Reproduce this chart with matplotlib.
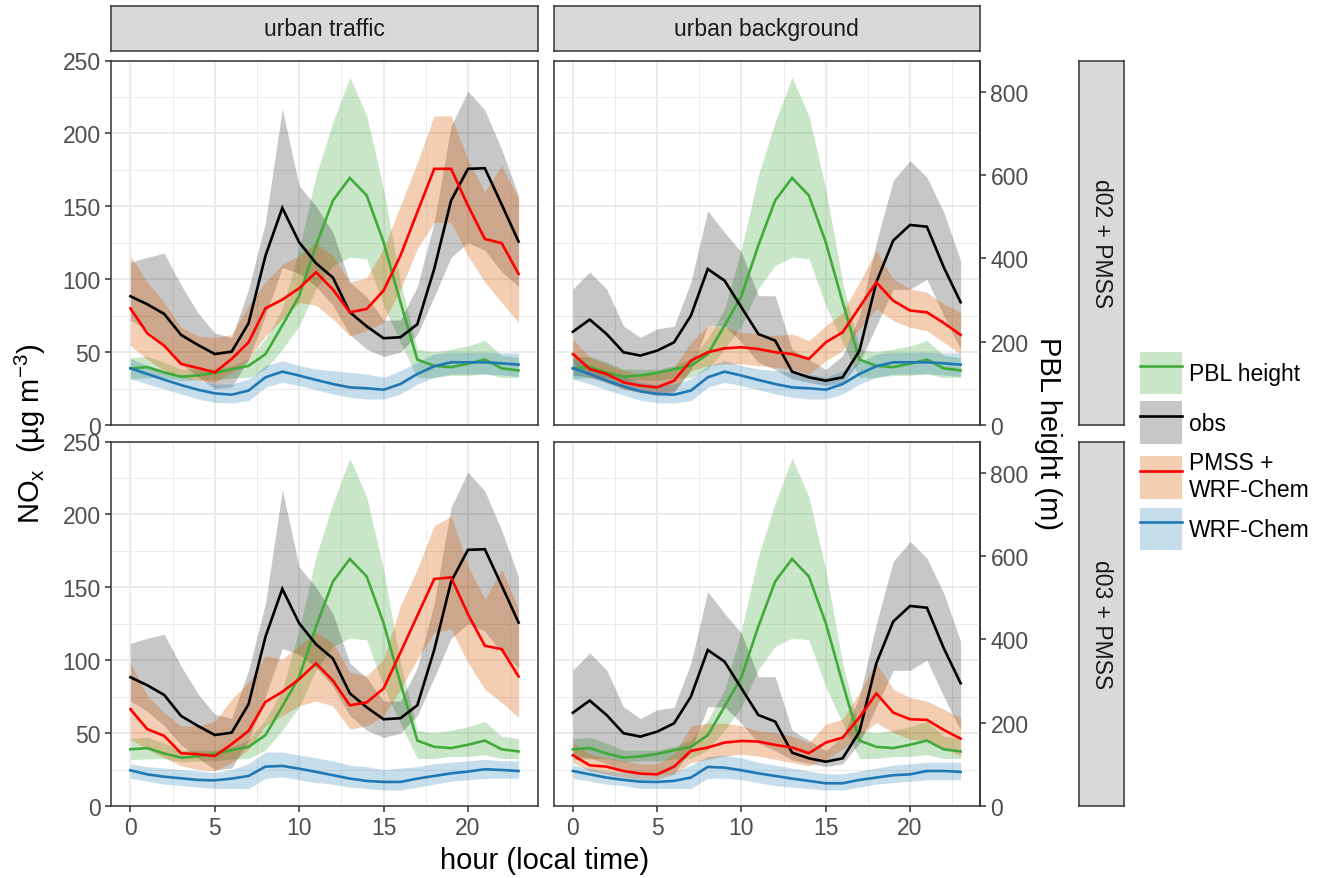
import matplotlib

matplotlib.use("Agg")  # headless
import matplotlib.pyplot as plt
import numpy as np
from matplotlib.lines import Line2D
from matplotlib.patches import Patch
from matplotlib.ticker import MultipleLocator

plt.rcParams["font.family"] = ["Liberation Sans", "DejaVu Sans"]
plt.rcParams["mathtext.fontset"] = "custom"
plt.rcParams["mathtext.rm"] = "Liberation Sans"
plt.rcParams["mathtext.it"] = "Liberation Sans:italic"

HOURS = np.arange(24)
STATIONS = ["urban traffic", "urban background"]
DOMAINS = ["d02 + PMSS", "d03 + PMSS"]
PBL_SCALE = 3.5  # NOx (ug m-3) -> PBL height (m) on the secondary axis

# PBL height (m), same in every panel
pbl_mean = [136, 139, 126, 116, 119, 125, 134, 142, 170, 239, 310, 431,
            539, 593, 551, 439, 295, 157, 142, 139, 147, 157, 136, 131]
pbl_lo = [111, 113, 114, 106, 108, 108, 113, 114, 134, 182, 238, 327,
          383, 403, 399, 287, 198, 114, 114, 119, 119, 123, 114, 114]
pbl_hi = [162, 165, 151, 134, 134, 134, 142, 159, 207, 279, 423, 599,
          727, 835, 742, 567, 343, 182, 175, 182, 190, 203, 167, 162]

# observations (same for both domains)
obs_traffic = [88.3, 82.8, 76.2, 61.8, 54.9, 48.7, 50.3, 69.8, 116, 148.9, 125.3, 110.9,
               101.1, 77.3, 67.7, 59.5, 60.2, 69.1, 107, 153.9, 175.7, 176.1, 151.2, 125.8]
obs_traffic_lo = [72, 65, 55, 42, 33, 25, 26, 45, 75, 108, 104, 95,
                  82, 62, 52, 47, 50, 62, 88, 115, 125, 120, 105, 95]
obs_traffic_hi = [111.6, 115, 117.8, 96, 77, 63, 60, 93, 139, 216.8, 164, 150,
                  132, 98, 88, 72, 72, 95, 139, 205, 229, 216, 189, 157]

obs_backgr = [64, 72.3, 62.4, 49.9, 47.6, 51, 56.7, 75, 107, 99, 80.7, 62.4,
              57.9, 36.6, 32.7, 30.4, 32.7, 51, 97.9, 126.5, 137.2, 136, 108.2, 84.2]
obs_backgr_lo = [34, 33, 29, 24.7, 22.4, 21.3, 22.4, 38, 68, 68, 56.7, 43,
                 38, 31.6, 29.3, 27, 29, 43, 68, 93, 93, 100, 75, 52]
obs_backgr_hi = [93.3, 105, 93.3, 68, 60, 66, 67.7, 98, 147, 132, 118.5, 88.7,
                 88.7, 52, 45, 38, 47.6, 75, 125, 167.7, 181.4, 170, 146, 112.8]

# PMSS + WRF-Chem
pmss_traffic_d02 = [80, 62.9, 54.4, 41.9, 39.1, 36.1, 45.3, 56.7, 80, 86, 93.8, 104.8,
                    92.9, 77.3, 79.6, 92.2, 116.2, 146, 175.7, 175.7, 150.5, 127.6, 124.7, 103.6]
pmss_traffic_d02_lo = [54.4, 45, 37.3, 32.7, 30.4, 29.3, 36, 45, 61, 72.7, 84, 82,
                       72.7, 61, 64.7, 70.4, 93, 120.8, 139, 139, 116, 98, 84, 70.4]
pmss_traffic_d02_hi = [116, 98, 84, 67, 61, 60, 62, 82, 98, 110, 116, 125,
                       116, 98, 101, 121, 150.5, 180, 212, 212, 182, 160, 178, 155]

pmss_traffic_d03 = [66.4, 52.7, 48.1, 36.2, 35.5, 34.3, 42.4, 51.5, 71.4, 78.3, 87, 97.8,
                    85.9, 69.1, 71, 80.6, 105.3, 130.5, 155.7, 156.8, 131.6, 109.9, 107.6, 88.8]
pmss_traffic_d03_lo = [45.8, 38.9, 33.2, 27.5, 25.2, 24, 29.8, 38.9, 55, 61.8, 68.7, 72,
                       68.7, 52.7, 55, 61.8, 80, 100.7, 119, 121.3, 98.4, 80, 71, 60.7]
pmss_traffic_d03_hi = [98.4, 75.5, 64, 55, 55, 58, 73.3, 84.7, 103, 100.7, 110, 119,
                       112, 91.6, 89.3, 100.7, 137.4, 162.5, 192.3, 198.7, 164.8, 141.9, 162.5, 135]

pmss_backgr_d02 = [48.7, 38.4, 35, 29.3, 27, 25.8, 30.4, 44.1, 49.9, 52.6, 53.3, 52.1,
                   49.9, 48.7, 45.3, 56.7, 63.6, 80.7, 97.9, 85.3, 78.5, 77.3, 70, 61.8]
pmss_backgr_d02_lo = [43, 32.7, 29.3, 24.7, 22.4, 20, 23.6, 37.3, 40.7, 41.9, 41.9, 40.7,
                      39.6, 38.4, 35, 44, 51, 65.9, 79.6, 71.6, 67, 64.7, 56.7, 48.7]
pmss_backgr_d02_hi = [59, 46.4, 41.9, 37.3, 35, 35, 39.6, 56.7, 68, 67, 63.6, 62.4,
                      61.3, 62.4, 57.9, 68, 77.3, 98, 119.6, 100, 93.3, 91, 83, 77.3]

pmss_backgr_d03 = [34.8, 27.9, 27, 24, 22.2, 21.7, 27, 37.8, 40.1, 43.5, 44.6, 44.2,
                   41.9, 40.1, 36.2, 43.5, 46.9, 60.7, 77.2, 64.1, 59.5, 59.1, 52.2, 46.2]
pmss_backgr_d03_lo = [29.8, 24, 21.7, 19.5, 18.3, 18.3, 21.7, 29.8, 32, 34.3, 35.5, 34.3,
                      32, 29.8, 27.5, 32, 38.9, 48, 57.2, 50.4, 45.8, 44.6, 40, 34.3]
pmss_backgr_d03_hi = [43.5, 35.5, 33.2, 30.9, 29, 29, 35.5, 55, 56.8, 56.8, 55, 51.5,
                      50.4, 48, 43.5, 56, 59.5, 77.8, 98.4, 80, 74.4, 72, 66.4, 60.7]

# WRF-Chem alone
wrf_traffic_d02 = [38.9, 35, 31.1, 27.4, 24.2, 21.7, 20.8, 23.6, 32.7, 36.6, 33.9, 30.9,
                   28.1, 25.8, 25.2, 24.2, 28.1, 35, 40.3, 43, 43, 43, 42.3, 41.4]
wrf_traffic_d02_lo = [31.6, 28.1, 24.7, 21.3, 17.8, 15.6, 15.1, 16.7, 25.8, 29.3, 27, 24.2,
                      21.3, 19, 17.8, 17.8, 21.3, 28.1, 32.7, 35, 35, 35, 34.3, 33.4]
wrf_traffic_d02_hi = [45.7, 40.7, 37.3, 33.9, 30.4, 28.1, 28.1, 31.6, 40.7, 44.1, 40.7, 38.4,
                      37.3, 36.1, 35, 32.7, 37.3, 43, 48.7, 49.9, 49.9, 49.9, 49.4, 49.4]

wrf_backgr_d02 = [38.9, 35, 30.4, 26.5, 23.1, 21.3, 20.8, 23.6, 32.7, 36.6, 33.9, 30.9,
                  28.1, 25.8, 25.2, 24.2, 28.1, 35, 40.3, 43, 43, 43, 42.3, 41.4]
wrf_backgr_d02_lo = [31.6, 28.1, 24, 20.5, 17, 15.3, 15.1, 16.7, 25.8, 29.3, 27, 24.2,
                     21.3, 19, 17.8, 17.8, 21.3, 28.1, 32.7, 35, 35, 35, 34.3, 33.4]
wrf_backgr_d02_hi = [45.7, 40.7, 36.6, 33, 29.5, 27.6, 28.1, 31.6, 40.7, 44.1, 40.7, 38.4,
                     37.3, 36.1, 35, 32.7, 37.3, 43, 48.7, 49.9, 49.9, 49.9, 49.4, 49.4]

wrf_traffic_d03 = [24.5, 21.7, 20.1, 19, 17.9, 17.6, 18.8, 20.6, 27, 27.5, 25.6, 23.4,
                   21.1, 18.8, 17.2, 16.5, 16.5, 18.8, 20.6, 22.4, 23.6, 25.2, 24.7, 24]
wrf_traffic_d03_lo = [19, 17, 15, 14, 13, 12, 12, 12, 19, 20, 18, 16,
                      15, 13, 12, 11, 11, 13, 15, 17, 18, 19, 19, 19]
wrf_traffic_d03_hi = [29, 27, 26, 25, 24, 23, 25, 29, 37, 37, 35, 33,
                      31, 28, 27, 25, 26, 27, 29, 30, 31, 32, 31, 31]

wrf_backgr_d03 = [24, 21.7, 19.5, 17.9, 16.7, 16.5, 17.2, 19.5, 26.8, 26.3, 24.5, 22.4,
                  20.6, 18.8, 17.2, 15.6, 15.6, 17.9, 19.5, 21.1, 21.7, 24, 24, 23.4]
wrf_backgr_d03_lo = [19, 17, 15, 14, 12, 12, 12, 12, 19, 19, 18, 16,
                     14, 13, 12, 11, 11, 13, 15, 16, 17, 18, 18, 18]
wrf_backgr_d03_hi = [28, 26, 24, 23, 22, 21, 23, 28, 34, 35, 33, 30,
                     28, 26, 24, 22, 22, 24, 26, 28, 29, 30, 30, 30]

OBS = {
    "urban traffic": (obs_traffic, obs_traffic_lo, obs_traffic_hi),
    "urban background": (obs_backgr, obs_backgr_lo, obs_backgr_hi),
}
PMSS = {
    ("urban traffic", "d02 + PMSS"): (pmss_traffic_d02, pmss_traffic_d02_lo, pmss_traffic_d02_hi),
    ("urban traffic", "d03 + PMSS"): (pmss_traffic_d03, pmss_traffic_d03_lo, pmss_traffic_d03_hi),
    ("urban background", "d02 + PMSS"): (pmss_backgr_d02, pmss_backgr_d02_lo, pmss_backgr_d02_hi),
    ("urban background", "d03 + PMSS"): (pmss_backgr_d03, pmss_backgr_d03_lo, pmss_backgr_d03_hi),
}
WRF = {
    ("urban traffic", "d02 + PMSS"): (wrf_traffic_d02, wrf_traffic_d02_lo, wrf_traffic_d02_hi),
    ("urban traffic", "d03 + PMSS"): (wrf_traffic_d03, wrf_traffic_d03_lo, wrf_traffic_d03_hi),
    ("urban background", "d02 + PMSS"): (wrf_backgr_d02, wrf_backgr_d02_lo, wrf_backgr_d02_hi),
    ("urban background", "d03 + PMSS"): (wrf_backgr_d03, wrf_backgr_d03_lo, wrf_backgr_d03_hi),
}

# (line colour, ribbon colour, ribbon alpha)
STYLE = {
    "PBL height": ("#41AB3A", "#4DAF4A", 0.30),
    "obs": ("#000000", "#000000", 0.22),
    "PMSS + WRF-Chem": ("#FF0000", "#D95F02", 0.30),
    "WRF-Chem": ("#1F78B4", "#1F78B4", 0.25),
}
BORDER = "#333333"
LW = 1.9

W, H = 1322, 879


def box(x0, y0, x1, y1):
    """pixel box (top-left origin) -> figure fraction rect"""
    return [x0 / W, 1 - y1 / H, (x1 - x0) / W, (y1 - y0) / H]


def strip(rect, label, rotation=0):
    sax = fig.add_axes(rect)
    sax.set_facecolor("#D9D9D9")
    sax.set_xticks([])
    sax.set_yticks([])
    for sp in sax.spines.values():
        sp.set_color(BORDER)
        sp.set_linewidth(1.1)
    sax.text(0.5, 0.5, label, ha="center", va="center", fontsize=16.5,
             color="#1A1A1A", rotation=rotation, transform=sax.transAxes)


COLS = [(111, 538), (553.5, 980)]
ROWS = [(61.5, 426), (442.5, 807)]

fig = plt.figure(figsize=(W / 100, H / 100), dpi=100)

for r, dom in enumerate(DOMAINS):
    for c, st in enumerate(STATIONS):
        x0, x1 = COLS[c]
        y0, y1 = ROWS[r]
        ax = fig.add_axes(box(x0, y0, x1, y1))

        series = [
            ("PBL height", [np.array(pbl_mean) / PBL_SCALE,
                            np.array(pbl_lo) / PBL_SCALE,
                            np.array(pbl_hi) / PBL_SCALE]),
            ("obs", OBS[st]),
            ("PMSS + WRF-Chem", PMSS[(st, dom)]),
            ("WRF-Chem", WRF[(st, dom)]),
        ]
        for name, (m, lo, hi) in series:
            lc, fc, a = STYLE[name]
            ax.fill_between(HOURS, lo, hi, color=fc, alpha=a, lw=0, zorder=2)
        for name, (m, lo, hi) in series:
            lc, fc, a = STYLE[name]
            ax.plot(HOURS, m, color=lc, lw=LW, zorder=3, solid_joinstyle="miter")

        ax.set_xlim(-1.15, 24.15)
        ax.set_ylim(0, 250)
        ax.xaxis.set_major_locator(MultipleLocator(5))
        ax.xaxis.set_minor_locator(MultipleLocator(2.5))
        ax.yaxis.set_major_locator(MultipleLocator(50))
        ax.yaxis.set_minor_locator(MultipleLocator(25))
        ax.grid(True, which="major", color="#EBEBEB", lw=1.4, zorder=0)
        ax.grid(True, which="minor", color="#EBEBEB", lw=0.7, zorder=0)
        ax.set_axisbelow(True)
        for sp in ax.spines.values():
            sp.set_color(BORDER)
            sp.set_linewidth(1.1)
        ax.tick_params(which="minor", length=0)
        ax.tick_params(which="major", length=4.5, width=1.1, color=BORDER,
                       labelsize=16.5, labelcolor="#4D4D4D", pad=3)
        if r == 0:
            ax.tick_params(axis="x", which="major", length=0, labelbottom=False)
        if c == 1:
            ax.tick_params(axis="y", which="major", length=0, labelleft=False)
            sec = ax.secondary_yaxis(
                "right", functions=(lambda v: v * PBL_SCALE, lambda v: v / PBL_SCALE))
            sec.set_yticks([0, 200, 400, 600, 800])
            sec.tick_params(length=4.5, width=1.1, color=BORDER, labelsize=16.5,
                            labelcolor="#4D4D4D", pad=3)
            sec.spines["right"].set_color(BORDER)
            sec.spines["right"].set_linewidth(1.1)

        # facet strips
        if r == 0:
            strip(box(x0, 7, x1, 52), st)
        if c == 1:
            strip(box(1079, y0, 1124, y1), dom, rotation=-90)

fig.text(30 / W, 1 - 434 / H, r"NO$_{\mathrm{x}}$  (µg m$^{-3}$)", rotation=90,
         ha="center", va="center", fontsize=21)
fig.text(1048 / W, 1 - 434 / H, "PBL height (m)", rotation=-90,
         ha="center", va="center", fontsize=21)
fig.text(545 / W, 1 - 861 / H, "hour (local time)", ha="center", va="center",
         fontsize=21)

handles, labels = [], []
for name, lab in [("PBL height", "PBL height"), ("obs", "obs"),
                  ("PMSS + WRF-Chem", "PMSS +\nWRF-Chem"), ("WRF-Chem", "WRF-Chem")]:
    lc, fc, a = STYLE[name]
    handles.append((Patch(facecolor=fc, alpha=a, edgecolor="none"),
                    Line2D([], [], color=lc, lw=LW)))
    labels.append(lab)
fig.legend(handles, labels, loc="center left", bbox_to_anchor=(1140 / W, 1 - 452 / H),
           frameon=False, fontsize=16.5, handlelength=1.85, handleheight=2.5,
           labelspacing=0.3, handletextpad=0.3, borderaxespad=0, borderpad=0)

fig.savefig("out.png", dpi=100)
